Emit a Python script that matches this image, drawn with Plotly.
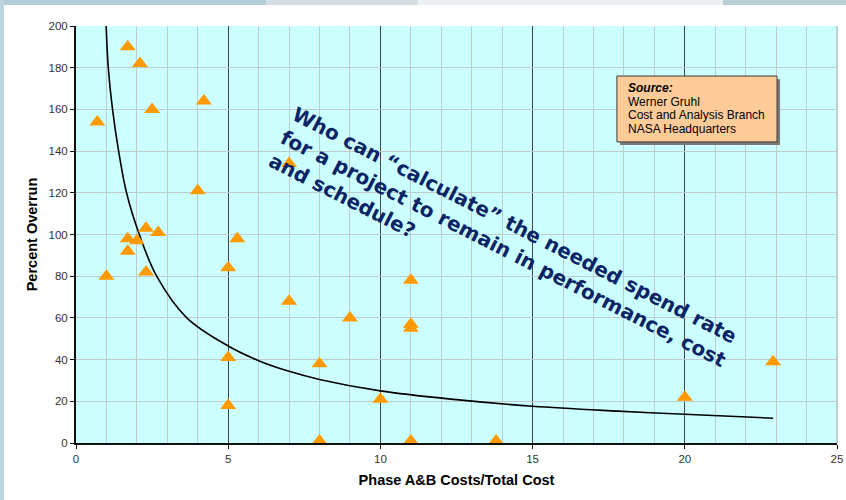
import plotly.graph_objects as go

# Project data: Phase A&B share of total cost vs. percent overrun
phase_ab_pct = [0.7, 1.7, 2.1, 2.5, 4.2, 4.0, 7.0, 1.0, 1.7, 2.0, 1.7, 2.3, 2.7, 2.3,
                5.0, 5.3, 5.0, 5.0, 7.0, 8.0, 8.0, 9.0, 10.0, 11.0, 11.0, 11.0, 11.0,
                13.8, 20.0, 22.9]
overrun_pct = [154, 190, 182, 160, 164, 121, 134, 80, 98, 97, 92, 103, 101, 82,
               84, 98, 41, 18, 68, 38, 1, 60, 21, 78, 57, 55, 1,
               1, 22, 39]

# Trend curve through the data
trend_x = [0.99, 1.06, 1.20, 1.40, 1.66, 2.08, 2.65, 3.64, 5.0, 6.0, 7.0, 8.0,
           10.0, 12.5, 15.0, 17.8, 20.0, 22.9]
trend_y = [200, 180, 160, 140, 120, 100, 80, 60, 46.5, 39.5, 34.4, 30.5,
           25.0, 20.8, 17.6, 15.3, 13.8, 11.9]

x_ticks = [0, 5, 10, 15, 20, 25]
y_ticks = [0, 20, 40, 60, 80, 100, 120, 140, 160, 180, 200]

source_lines = ["<b><i>Source:</i></b>", "Werner Gruhl",
                "Cost and Analysis Branch", "NASA Headquarters"]
callout = ("<b>Who can \u201ccalculate\u201d the needed spend rate<br>"
           "for a project to remain in performance, cost<br>"
           "and schedule?</b>")

LIGHT_GRID = "#BDCBCB"

fig = go.Figure()

fig.add_trace(go.Scatter(
    x=trend_x, y=trend_y, mode="lines",
    line=dict(color="black", width=1.6, shape="spline", smoothing=1.0),
    hoverinfo="skip", showlegend=False,
))

fig.add_trace(go.Scatter(
    x=phase_ab_pct, y=overrun_pct, mode="markers",
    marker=dict(symbol="triangle-up", size=14, color="#FF9900", line=dict(width=0)),
    showlegend=False,
))

tick_font = dict(family="Arial, Liberation Sans, sans-serif", size=11.5, color="#333333")
title_font = dict(family="Arial, Liberation Sans, sans-serif", size=14.5, color="black")

fig.update_xaxes(
    range=[0, 25], tickvals=x_ticks, ticktext=[str(v) for v in x_ticks],
    showgrid=True, gridcolor="#454545", gridwidth=1,
    minor=dict(dtick=1, showgrid=True, gridcolor=LIGHT_GRID, gridwidth=1),
    showline=True, linecolor="#111111", linewidth=2,
    ticks="outside", ticklen=4, tickcolor="#111111", tickwidth=1,
    tickfont=tick_font, zeroline=False, automargin=False,
    title=dict(text="<b>Phase A&B Costs/Total Cost</b>", font=title_font, standoff=11),
)
fig.update_yaxes(
    range=[0, 200], tickvals=y_ticks, ticktext=[str(v) for v in y_ticks],
    showgrid=True, gridcolor=LIGHT_GRID, gridwidth=1,
    showline=True, linecolor="#111111", linewidth=2,
    ticks="outside", ticklen=4, tickcolor="#111111", tickwidth=1,
    tickfont=tick_font, zeroline=False, automargin=False,
    title=dict(text="<b>Percent Overrun</b>", font=title_font, standoff=7),
)

shapes = [
    # slide backdrop strips around the white chart frame
    dict(type="rect", xref="paper", yref="paper", x0=-0.12, x1=0.25, y0=1.0504, y1=1.08,
         fillcolor="#B4CDD5", line=dict(width=0), layer="below"),
    dict(type="rect", xref="paper", yref="paper", x0=0.25, x1=0.45, y0=1.0504, y1=1.08,
         fillcolor="#D2DEE2", line=dict(width=0), layer="below"),
    dict(type="rect", xref="paper", yref="paper", x0=0.45, x1=0.85, y0=1.0504, y1=1.08,
         fillcolor="#EDF0F2", line=dict(width=0), layer="below"),
    dict(type="rect", xref="paper", yref="paper", x0=0.85, x1=1.02, y0=1.0504, y1=1.08,
         fillcolor="#B8CFD6", line=dict(width=0), layer="below"),
    dict(type="rect", xref="paper", yref="paper", x0=-0.12, x1=-0.0946, y0=-0.2, y1=1.08,
         fillcolor="#BCD4DB", line=dict(width=0), layer="below"),
    # light plot-area border on the right edge
    dict(type="line", xref="paper", yref="paper", x0=1, x1=1, y0=0, y1=1,
         line=dict(color="#B5BFBF", width=1.5), layer="between"),
    # source box with drop shadow
    dict(type="rect", xref="x", yref="y", x0=17.87, x1=23.13, y0=142.9, y1=174.5,
         fillcolor="#7A7A7A", line=dict(width=0), layer="above"),
    dict(type="rect", xref="x", yref="y", x0=17.77, x1=23.03, y0=144.4, y1=176.0,
         fillcolor="#FFCC99", line=dict(color="#3A3A3A", width=1), layer="above"),
]

annotations = [
    dict(
        x=14.06, y=93, xref="x", yref="y", xanchor="center", yanchor="middle",
        text=callout, textangle=27, align="left", showarrow=False,
        font=dict(family="DejaVu Sans, Verdana, sans-serif", size=20, color="#0B2466"),
    ),
]
# source credit, one annotation per line for tight line spacing
for i, line in enumerate(source_lines):
    annotations.append(dict(
        x=18.08, y=170.3 - i * 6.57, xref="x", yref="y", xanchor="left", yanchor="middle",
        text=line, align="left", showarrow=False,
        font=dict(family="Arial, Liberation Sans, sans-serif", size=12, color="black"),
    ))

fig.update_layout(
    width=846, height=500,
    margin=dict(l=76, r=9, t=26, b=57),
    paper_bgcolor="white", plot_bgcolor="#CCFFFF",
    shapes=shapes, annotations=annotations,
    showlegend=False,
)

fig.write_html("out.html")
